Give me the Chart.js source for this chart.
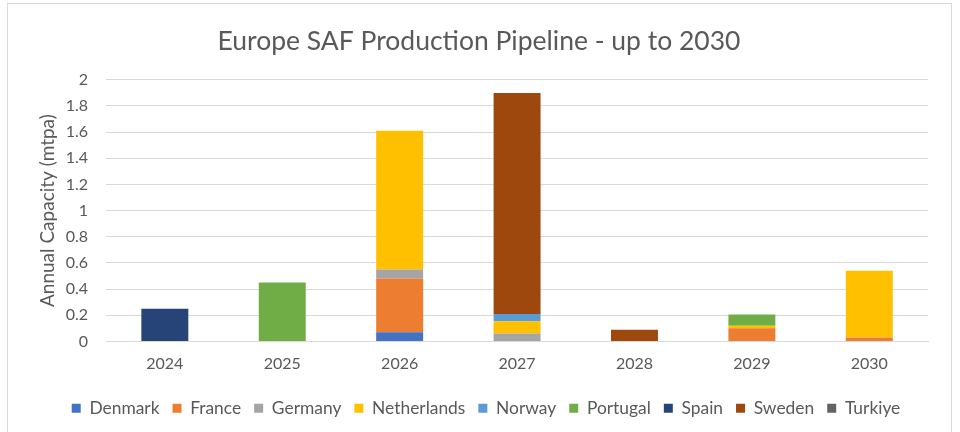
<!DOCTYPE html>
<html><head><meta charset="utf-8">
<script src="https://cdn.jsdelivr.net/npm/chart.js@4"></script>
<style>
html,body{margin:0;padding:0;background:#fff;}
#wrap{position:absolute;left:0;top:0;width:960px;height:432px;overflow:hidden;}
#frame{position:absolute;left:7px;top:3px;width:945px;height:440px;border:1px solid #d9d9d9;box-sizing:border-box;}
canvas{position:absolute;left:0;top:0;}
</style></head><body>
<div id="wrap"><div id="frame"></div><canvas id="c" width="960" height="432"></canvas></div>
<script>
const categories = ['2024','2025','2026','2027','2028','2029','2030'];
const denmark     = [0, 0, 0.07, 0, 0, 0, 0];
const france      = [0, 0, 0.41, 0, 0, 0.10, 0.03];
const germany     = [0, 0, 0.07, 0.06, 0, 0, 0];
const netherlands = [0, 0, 1.06, 0.095, 0, 0.02, 0.51];
const norway      = [0, 0, 0, 0.055, 0, 0, 0];
const portugal    = [0, 0.45, 0, 0, 0, 0.085, 0];
const spain       = [0.25, 0, 0, 0, 0, 0, 0];
const sweden      = [0, 0, 0, 1.69, 0.09, 0, 0];
const turkiye     = [0, 0, 0, 0, 0, 0, 0];
const yTicks = [0,0.2,0.4,0.6,0.8,1,1.2,1.4,1.6,1.8,2];

const FONT = 'Lato';
const series = [
  ['Denmark', denmark, '#4472C4'],
  ['France', france, '#ED7D31'],
  ['Germany', germany, '#A5A5A5'],
  ['Netherlands', netherlands, '#FFC000'],
  ['Norway', norway, '#5B9BD5'],
  ['Portugal', portugal, '#70AD47'],
  ['Spain', spain, '#264478'],
  ['Sweden', sweden, '#9E480E'],
  ['Turkiye', turkiye, '#636363'],
];
// shift legend row so its visible items (not the trailing gap) are centred
const legendShift = {
  id:'legendShift',
  afterLayout(chart){ const l = chart.legend; if(l){ l.left += 7; l.right += 7; } }
};
new Chart(document.getElementById('c'), {
  type: 'bar',
  data: {
    labels: categories,
    datasets: series.map(([n,d,c]) => ({label:n, data:d, backgroundColor:c, borderWidth:0, barPercentage:0.4, categoryPercentage:1}))
  },
  plugins:[legendShift],
  options: {
    responsive:false, animation:false,
    layout:{padding:{left:30,right:32,top:26,bottom:5}},
    plugins:{
      title:{display:true,text:'Europe SAF Production Pipeline - up to 2030',color:'#595959',font:{family:FONT,size:26.5,weight:'normal'},padding:{top:0,bottom:22}},
      legend:{position:'bottom',labels:{color:'#595959',font:{family:FONT,size:17.4},boxWidth:9,boxHeight:9,padding:13},},
      tooltip:{enabled:false}
    },
    scales:{
      x:{stacked:true,grid:{display:false,drawTicks:false},border:{color:'#d9d9d9'},
         ticks:{color:'#595959',font:{family:FONT,size:16},padding:13}},
      y:{stacked:true,min:0,max:2,afterBuildTicks:ax=>{ax.ticks=yTicks.map(v=>({value:v}));},
         grid:{color:'#d9d9d9',drawTicks:false},border:{display:false},
         ticks:{color:'#595959',font:{family:FONT,size:16},padding:18,callback:v=>String(+Number(v).toFixed(1))},
         title:{display:true,text:'Annual Capacity (mtpa)',color:'#595959',font:{family:FONT,size:19},padding:{top:6,bottom:-11}}}
    }
  }
});
</script></body></html>
